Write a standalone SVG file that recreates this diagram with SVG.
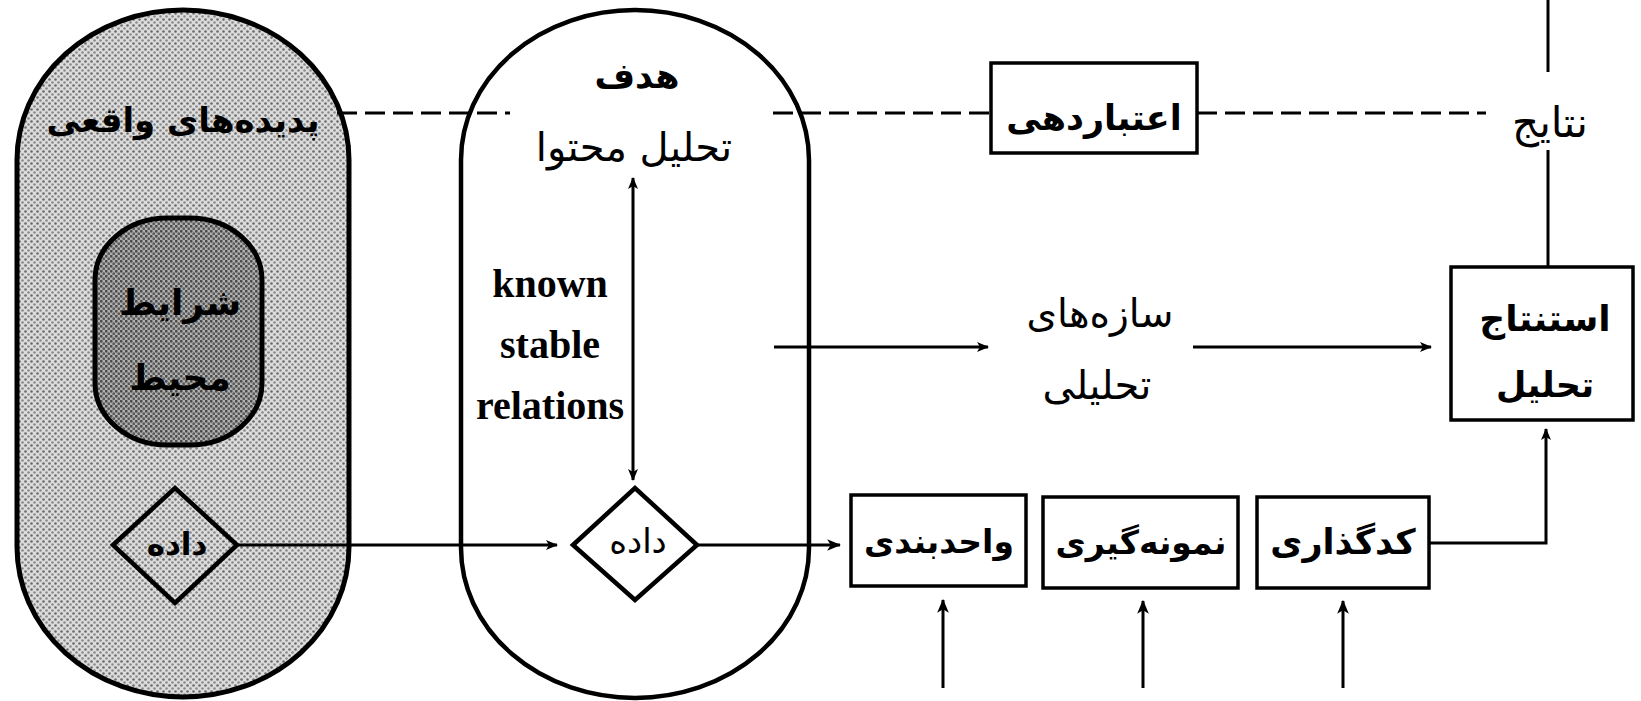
<svg xmlns="http://www.w3.org/2000/svg" width="1641" height="701" viewBox="0 0 1641 701">
<style>
.fa{font-family:"DejaVu Sans",sans-serif;fill:#000;text-anchor:middle;dominant-baseline:central}
.b{font-weight:bold}
.en{font-family:"Liberation Serif",serif;font-weight:bold;font-size:40px;text-anchor:middle;dominant-baseline:central}
.ln{stroke:#000;stroke-width:3;fill:none}
.bx{stroke:#000;stroke-width:3.5;fill:#fff}
.dash{stroke:#000;stroke-width:3;fill:none;stroke-dasharray:20 8}
</style>
<defs>
<pattern id="dotsL" width="6" height="6" patternUnits="userSpaceOnUse">
<rect width="6" height="6" fill="#dcdcdc"/>
<circle cx="1.5" cy="1.5" r="1.3" fill="#6a6a6a"/>
<circle cx="4.5" cy="4.5" r="1.3" fill="#8a8a8a"/>
</pattern>
<pattern id="dotsD" width="5" height="5" patternUnits="userSpaceOnUse">
<rect width="5" height="5" fill="#b0b0b0"/>
<circle cx="1.25" cy="1.25" r="1.4" fill="#4a4a4a"/>
<circle cx="3.75" cy="3.75" r="1.4" fill="#5a5a5a"/>
</pattern>
<marker id="ah" viewBox="0 0 12 10" refX="11" refY="5" markerWidth="12" markerHeight="10" markerUnits="userSpaceOnUse" orient="auto-start-reverse">
<path d="M0,0 L12,5 L0,10 L3,5 z" fill="#000"/>
</marker>
<marker id="ahs" viewBox="0 0 12 10" refX="11" refY="5" markerWidth="14" markerHeight="12" markerUnits="userSpaceOnUse" orient="auto-start-reverse">
<path d="M0,0 L12,5 L0,10 L3,5 z" fill="#000"/>
</marker>
</defs>

<g id="real-phenomena">
<path d="M17,160 A166,150 0 0 1 349,160 L349,547 A166,150 0 0 1 17,547 Z" fill="url(#dotsL)" stroke="#000" stroke-width="5"/>
<text class="fa b" x="183" y="120" font-size="34">پدیده‌های واقعی</text>
</g>

<g id="env-conditions">
<rect x="95" y="218" width="167" height="227" rx="72" ry="62" fill="url(#dotsD)" stroke="#000" stroke-width="5"/>
<text class="fa b" x="180" y="302" font-size="36" fill="#222">شرایط</text>
<text class="fa b" x="180" y="377" font-size="36" fill="#222">محیط</text>
</g>

<g id="data-left">
<polygon points="113,545 175,488 237,545 175,603" fill="url(#dotsL)" stroke="#000" stroke-width="4.5"/>
<text class="fa b" x="177" y="544" font-size="31">داده</text>
</g>

<g id="content-analysis">
<path d="M461,160 A174,150 0 0 1 809,160 L809,548 A174,150 0 0 1 461,548 Z" fill="none" stroke="#000" stroke-width="4.5"/>
<text class="fa b" x="637" y="76" font-size="35">هدف</text>
<text class="fa" x="634" y="147" font-size="40">تحلیل محتوا</text>
</g>

<g id="relations-label">
<text class="en" x="550" y="283">known</text>
<text class="en" x="550" y="344">stable</text>
<text class="en" x="550" y="405">relations</text>
</g>

<g id="data-mid">
<polygon points="573,545 635,488 697,545 635,600" fill="#fff" stroke="#000" stroke-width="4.5"/>
<text class="fa" x="638" y="541" font-size="34">داده</text>
</g>

<g id="validation">
<rect class="bx" x="991" y="63" width="206" height="90"/>
<text class="fa b" x="1094" y="118" font-size="35">اعتباردهی</text>
</g>

<g id="results">
<text class="fa" x="1550" y="122" font-size="42">نتایج</text>
</g>

<g id="analytical-constructs">
<text class="fa" x="1100" y="313" font-size="39">سازه‌های</text>
<text class="fa" x="1097" y="385" font-size="40">تحلیلی</text>
</g>

<g id="inference">
<rect class="bx" x="1451" y="267" width="182" height="153"/>
<text class="fa b" x="1545" y="318" font-size="36">استنتاج</text>
<text class="fa b" x="1545" y="385" font-size="35">تحلیل</text>
</g>

<g id="unitizing">
<rect class="bx" x="851" y="495" width="175" height="91"/>
<text class="fa b" x="939" y="541" font-size="33">واحدبندی</text>
</g>

<g id="sampling">
<rect class="bx" x="1043" y="497" width="195" height="91"/>
<text class="fa b" x="1141" y="542" font-size="33">نمونه‌گیری</text>
</g>

<g id="coding">
<rect class="bx" x="1257" y="497" width="172" height="91"/>
<text class="fa b" x="1343" y="542" font-size="35">کدگذاری</text>
</g>

<g id="connectors">
<line class="dash" x1="337" y1="113" x2="510" y2="113"/>
<line class="dash" x1="773" y1="113" x2="991" y2="113"/>
<line class="dash" x1="1197" y1="113" x2="1486" y2="113"/>
<line class="ln" x1="1548" y1="0" x2="1548" y2="72"/>
<line class="ln" x1="1548" y1="150" x2="1548" y2="267"/>
<line class="ln" x1="633" y1="178" x2="633" y2="480" stroke-width="2.2" marker-start="url(#ah)" marker-end="url(#ah)"/>
<line class="ln" x1="237" y1="545" x2="557" y2="545" marker-end="url(#ah)"/>
<line class="ln" x1="697" y1="545" x2="840" y2="545" stroke-width="3.5" marker-end="url(#ahs)"/>
<line class="ln" x1="774" y1="347" x2="988" y2="347" marker-end="url(#ah)"/>
<line class="ln" x1="1193" y1="347" x2="1431" y2="347" marker-end="url(#ah)"/>
<polyline class="ln" points="1429,543 1546,543 1546,429" marker-end="url(#ah)"/>
<line class="ln" x1="943" y1="688" x2="943" y2="600" marker-end="url(#ahs)"/>
<line class="ln" x1="1143" y1="688" x2="1143" y2="601" marker-end="url(#ahs)"/>
<line class="ln" x1="1343" y1="688" x2="1343" y2="601" marker-end="url(#ahs)"/>
</g>
</svg>
